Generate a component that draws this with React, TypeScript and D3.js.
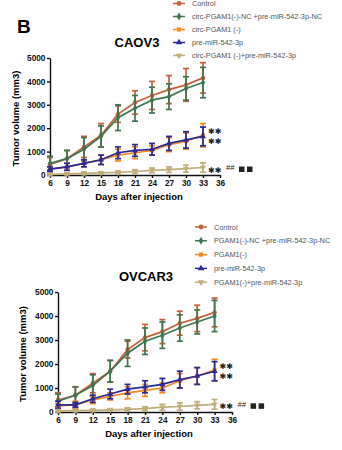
import * as d3 from 'd3';
import React, { useEffect, useRef } from 'react';

const days = [6, 9, 12, 15, 18, 21, 24, 27, 30, 33];
const xTicks = [6, 9, 12, 15, 18, 21, 24, 27, 30, 33, 36];
const yTicks = [0, 1000, 2000, 3000, 4000, 5000];

const colors = ['#c9603c', '#3e7650', '#f58a1f', '#2d2a96', '#c2ad7c'];
const symbols = [d3.symbolCircle, d3.symbolDiamond, d3.symbolSquare, d3.symbolTriangle, d3.symbolTriangle];

const caovLegend = ['Control', 'circ-PGAM1(-)-NC +pre-miR-542-3p-NC', 'circ-PGAM1 (-)', 'pre-miR-542-3p', 'circ-PGAM1 (-)+pre-miR-542-3p'];
const ovcarLegend = ['Control', 'PGAM1(-)-NC +pre-miR-542-3p-NC', 'PGAM1(-)', 'pre-miR-542-3p', 'PGAM1(-)+pre-miR-542-3p'];

// CAOV3 means
const caovControl = [450, 700, 1200, 1700, 2600, 3100, 3400, 3650, 3850, 4150];
const caovNC = [500, 700, 1100, 1650, 2450, 2850, 3200, 3350, 3700, 3950];
const caovPgam = [250, 350, 500, 650, 850, 950, 1050, 1300, 1450, 1700];
const caovMiR = [250, 350, 500, 650, 950, 1050, 1100, 1350, 1500, 1650];
const caovCombo = [30, 50, 70, 90, 110, 150, 200, 230, 270, 320];
// CAOV3 error (sd)
const caovControlErr = [300, 350, 450, 500, 350, 500, 600, 600, 700, 650];
const caovNCErr = [300, 350, 500, 450, 550, 550, 550, 550, 500, 650];
const caovPgamErr = [100, 150, 150, 200, 250, 250, 200, 300, 350, 500];
const caovMiRErr = [100, 150, 150, 200, 250, 250, 250, 300, 350, 400];
const caovComboErr = [30, 40, 50, 50, 60, 80, 100, 120, 150, 200];

// OVCAR3 means
const ovcarControl = [500, 700, 1200, 1700, 2600, 3100, 3350, 3700, 3900, 4150];
const ovcarNC = [450, 700, 1100, 1700, 2450, 2950, 3200, 3500, 3750, 4000];
const ovcarPgam = [250, 300, 500, 650, 800, 900, 1000, 1300, 1500, 1750];
const ovcarMiR = [300, 300, 550, 750, 950, 1050, 1150, 1350, 1500, 1700];
const ovcarCombo = [50, 60, 70, 90, 110, 140, 200, 230, 280, 320];
const ovcarControlErr = [300, 350, 400, 450, 350, 550, 500, 500, 550, 600];
const ovcarNCErr = [300, 350, 450, 450, 550, 550, 550, 550, 500, 650];
const ovcarPgamErr = [100, 150, 150, 150, 250, 250, 200, 300, 350, 450];
const ovcarMiRErr = [150, 100, 150, 200, 200, 250, 250, 350, 350, 400];
const ovcarComboErr = [50, 40, 50, 50, 60, 80, 120, 150, 150, 200];

const FONT = 'Arial, "Liberation Sans", sans-serif';
const STAR_FONT = '"DejaVu Sans", sans-serif';

type PanelProps = {
  title: string;
  legend: string[];
  series: number[][];
  errors: number[][];
  x0: number; x1: number; y0: number; y1: number;
  titleX: number; titleY: number;
  legX: number; legY: number; legStep: number;
  ylabX: number;
};

function Panel(p: PanelProps) {
  const ref = useRef<SVGGElement>(null);
  useEffect(() => {
    const g = d3.select(ref.current);
    g.selectAll('*').remove();
    const x = d3.scaleLinear().domain([6, 36]).range([p.x0, p.x1]);
    const y = d3.scaleLinear().domain([0, 5000]).range([p.y0, p.y1]);

    // legend
    p.legend.forEach((name, i) => {
      const ly = p.legY + i * p.legStep;
      g.append('line').attr('x1', p.legX).attr('x2', p.legX + 12).attr('y1', ly).attr('y2', ly)
        .attr('stroke', colors[i]).attr('stroke-width', 1.5);
      g.append('path').attr('d', d3.symbol(symbols[i], 18)()!)
        .attr('transform', `translate(${p.legX + 6},${ly}) rotate(${i === 4 ? 180 : 0})`)
        .attr('fill', colors[i]);
      g.append('text').attr('x', p.legX + 19).attr('y', ly + 2.6).text(name)
        .attr('font-size', 7.3).attr('fill', '#555').attr('font-family', FONT);
    });

    g.append('text').attr('x', p.titleX).attr('y', p.titleY).attr('text-anchor', 'middle')
      .attr('font-size', 13).attr('font-weight', 'bold').attr('font-family', FONT).text(p.title);

    // axes
    const ya = g.append('g').attr('transform', `translate(${p.x0},0)`)
      .call(d3.axisLeft(y).tickValues(yTicks).tickFormat(d3.format('d')).tickSize(3).tickPadding(1.5).tickSizeOuter(0));
    const xa = g.append('g').attr('transform', `translate(0,${p.y0})`)
      .call(d3.axisBottom(x).tickValues(xTicks).tickSize(3).tickPadding(2).tickSizeOuter(0));
    [ya, xa].forEach(a => {
      a.selectAll('path,line').attr('stroke', '#111').attr('stroke-width', 1.4);
      a.selectAll('text').attr('font-size', 8.3).attr('font-weight', 'bold').attr('font-family', FONT).attr('fill', '#111');
    });
    g.append('text').attr('x', (p.x0 + p.x1) / 2 + 4).attr('y', p.y0 + 24.5).attr('text-anchor', 'middle')
      .attr('font-size', 9.5).attr('font-weight', 'bold').attr('font-family', FONT).text('Days after injection');
    g.append('text').attr('transform', `translate(${p.ylabX},${(p.y0 + p.y1) / 2 + 2}) rotate(-90)`)
      .attr('text-anchor', 'middle').attr('font-size', 9.5).attr('font-weight', 'bold').attr('font-family', FONT)
      .text('Tumor volume (mm3)');

    // series
    p.series.forEach((vals, i) => {
      const err = p.errors[i];
      const line = d3.line<number>().x((_, j) => x(days[j])).y(v => y(v));
      const sg = g.append('g');
      sg.append('path').attr('d', line(vals)!).attr('fill', 'none').attr('stroke', colors[i]).attr('stroke-width', 1.7);
      vals.forEach((v, j) => {
        const cx = x(days[j]);
        const top = y(v + err[j]);
        const bot = y(Math.max(0, v - err[j]));
        sg.append('line').attr('x1', cx).attr('x2', cx).attr('y1', top).attr('y2', bot)
          .attr('stroke', colors[i]).attr('stroke-width', 1.7);
        [top, bot].forEach(cy => sg.append('line').attr('x1', cx - 3).attr('x2', cx + 3).attr('y1', cy).attr('y2', cy)
          .attr('stroke', colors[i]).attr('stroke-width', 1.7));
        sg.append('path').attr('d', d3.symbol(symbols[i], 16)()!)
          .attr('transform', `translate(${cx},${y(v)}) rotate(${i === 4 ? 180 : 0})`).attr('fill', colors[i]);
      });
    });

    // significance marks
    const lastX = x(33) + 5;
    const star = (yc: number, dx = 0) => g.append('text').attr('x', lastX + dx).attr('y', yc + 3)
      .attr('font-size', 8).attr('font-family', STAR_FONT).attr('fill', '#222').text('\u2731\u2731');
    const cTop = y(p.series[2][9]) - 4;
    star(cTop);
    star(cTop + 9.5);
    const by = y(p.series[4][9]) + 2;
    star(by);
    g.append('text').attr('x', lastX + 18).attr('y', by + 0.5).attr('font-size', 7.5).attr('font-style', 'italic')
      .attr('font-family', FONT).attr('fill', '#222').text('##');
    [0, 1].forEach(k => g.append('rect').attr('x', lastX + 31 + k * 8).attr('y', by - 3)
      .attr('width', 5.5).attr('height', 5.5).attr('fill', '#222'));
  }, []);
  return <g ref={ref} />;
}

export default function App() {
  return (
    <svg width={342} height={450} style={{ display: 'block', position: 'absolute', left: 0, top: 0, background: '#fff' }}>
      <text x={17} y={33} fontSize={19} fontWeight="bold" fontFamily={FONT}>B</text>
      <Panel title="CAOV3" legend={caovLegend}
        series={[caovControl, caovNC, caovPgam, caovMiR, caovCombo]}
        errors={[caovControlErr, caovNCErr, caovPgamErr, caovMiRErr, caovComboErr]}
        x0={50} x1={220} y0={175} y1={58} titleX={137} titleY={47}
        legX={173} legY={3.5} legStep={13} ylabX={19} />
      <Panel title="OVCAR3" legend={ovcarLegend}
        series={[ovcarControl, ovcarNC, ovcarPgam, ovcarMiR, ovcarCombo]}
        errors={[ovcarControlErr, ovcarNCErr, ovcarPgamErr, ovcarMiRErr, ovcarComboErr]}
        x0={58} x1={232} y0={412} y1={292} titleX={146} titleY={281}
        legX={195} legY={227} legStep={13.8} ylabX={26} />
    </svg>
  );
}
